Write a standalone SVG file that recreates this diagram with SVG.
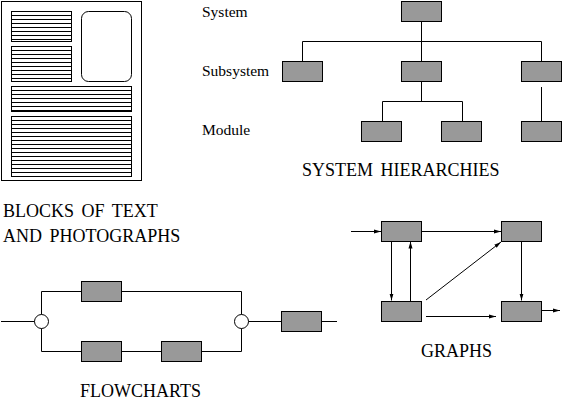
<svg xmlns="http://www.w3.org/2000/svg" width="562" height="401" viewBox="0 0 562 401">
<style>
.b{fill:#999999;stroke:#000;stroke-width:1}
.o{fill:none;stroke:#000;stroke-width:1}
.l{stroke:#000;stroke-width:1;fill:none}
.t{font-family:"Liberation Serif","Times New Roman",serif;fill:#000}
.lab{font-size:15.5px}
.ttl{font-size:18px;word-spacing:3px}
</style>
<defs>
<marker id="ah" markerUnits="userSpaceOnUse" markerWidth="8" markerHeight="6" refX="7" refY="2.5" orient="auto">
<path d="M0,0.5 L7,2.5 L0,4.5 z" fill="#000"/>
</marker>
</defs>
<rect width="562" height="401" fill="#fff"/>

<g id="page">
<rect class="o" x="1.5" y="1.5" width="140" height="179"/>
<rect class="o" x="11.5" y="11.5" width="60" height="30"/>
<path class="l" d="M11.5,15.5H71.5M11.5,19.5H71.5M11.5,23.5H71.5M11.5,27.5H71.5M11.5,31.5H71.5M11.5,35.5H71.5M11.5,39.5H71.5"/>
<rect class="o" x="11.5" y="46.5" width="60" height="35"/>
<path class="l" d="M11.5,50.5H71.5M11.5,54.5H71.5M11.5,58.5H71.5M11.5,62.5H71.5M11.5,66.5H71.5M11.5,70.5H71.5M11.5,74.5H71.5M11.5,78.5H71.5"/>
<rect class="o" x="81.5" y="11.5" width="50" height="70" rx="7" ry="7"/>
<rect class="o" x="11.5" y="86.5" width="120" height="25"/>
<path class="l" d="M11.5,90.5H131.5M11.5,94.5H131.5M11.5,98.5H131.5M11.5,102.5H131.5M11.5,106.5H131.5M11.5,110.5H131.5"/>
<rect class="o" x="11.5" y="116.5" width="120" height="60"/>
<path class="l" d="M11.5,120.5H131.5M11.5,124.5H131.5M11.5,128.5H131.5M11.5,132.5H131.5M11.5,136.5H131.5M11.5,140.5H131.5M11.5,144.5H131.5M11.5,148.5H131.5M11.5,152.5H131.5M11.5,156.5H131.5M11.5,160.5H131.5M11.5,164.5H131.5M11.5,168.5H131.5M11.5,172.5H131.5"/>
</g>
<g id="page-title">
<text class="t ttl" x="3" y="217">BLOCKS OF TEXT</text>
<text class="t ttl" x="3" y="242">AND PHOTOGRAPHS</text>
</g>

<g id="hier-connectors">
<path class="l" d="M421.5,21.5V41.5M302.5,41.5H541.5M302.5,41.5V61.5M421.5,41.5V61.5M541.5,41.5V61.5M421.5,81.5V101.5M382.5,101.5H462.5M382.5,101.5V121.5M462.5,101.5V121.5M541.5,87V121.5"/>
</g>
<g id="h-system"><rect class="b" x="401.5" y="1.5" width="40" height="20"/></g>
<g id="h-sub1"><rect class="b" x="282.5" y="61.5" width="40" height="20"/></g>
<g id="h-sub2"><rect class="b" x="401.5" y="61.5" width="40" height="20"/></g>
<g id="h-sub3"><rect class="b" x="521.5" y="61.5" width="40" height="20"/></g>
<g id="h-mod1"><rect class="b" x="361.5" y="121.5" width="40" height="20"/></g>
<g id="h-mod2"><rect class="b" x="441.5" y="121.5" width="40" height="20"/></g>
<g id="h-mod3"><rect class="b" x="521.5" y="121.5" width="40" height="20"/></g>
<g id="hier-labels">
<text class="t lab" x="202" y="17">System</text>
<text class="t lab" x="202" y="76">Subsystem</text>
<text class="t lab" x="202" y="135">Module</text>
<text class="t ttl" x="302" y="176">SYSTEM HIERARCHIES</text>
</g>

<g id="graph-connectors">
<line class="l" x1="351" y1="231.5" x2="381" y2="231.5" marker-end="url(#ah)"/>
<line class="l" x1="421.5" y1="231.5" x2="501" y2="231.5" marker-end="url(#ah)"/>
<line class="l" x1="391.5" y1="241.5" x2="391.5" y2="300.5" marker-end="url(#ah)"/>
<line class="l" x1="410.5" y1="301" x2="410.5" y2="241.5" marker-end="url(#ah)"/>
<line class="l" x1="426" y1="300" x2="501" y2="242" marker-end="url(#ah)"/>
<line class="l" x1="426" y1="316.5" x2="496" y2="316.5" marker-end="url(#ah)"/>
<line class="l" x1="521.5" y1="241.5" x2="521.5" y2="300.5" marker-end="url(#ah)"/>
<line class="l" x1="541.5" y1="310.5" x2="560" y2="310.5" marker-end="url(#ah)"/>
</g>
<g id="g-a"><rect class="b" x="381.5" y="221.5" width="40" height="20"/></g>
<g id="g-b"><rect class="b" x="501.5" y="221.5" width="40" height="20"/></g>
<g id="g-c"><rect class="b" x="381.5" y="301.5" width="40" height="20"/></g>
<g id="g-d"><rect class="b" x="501.5" y="301.5" width="40" height="20"/></g>
<g id="graph-title"><text class="t ttl" x="421" y="357">GRAPHS</text></g>

<g id="flow-connectors">
<path class="l" d="M1,321.5H34.5M41.5,314.5V291.5H81.5M121.5,291.5H241.5V314.5M41.5,328.5V351.5H81.5M121.5,351.5H161.5M201.5,351.5H241.5V328.5M248.5,321.5H281.5M321.5,321.5H337"/>
</g>
<g id="f-j1"><circle class="o" cx="41.5" cy="321.5" r="7"/></g>
<g id="f-j2"><circle class="o" cx="241.5" cy="321.5" r="7"/></g>
<g id="f-top"><rect class="b" x="81.5" y="281.5" width="40" height="20"/></g>
<g id="f-bot1"><rect class="b" x="81.5" y="341.5" width="40" height="20"/></g>
<g id="f-bot2"><rect class="b" x="161.5" y="341.5" width="40" height="20"/></g>
<g id="f-out"><rect class="b" x="281.5" y="311.5" width="40" height="20"/></g>
<g id="flow-title"><text class="t ttl" x="80" y="397">FLOWCHARTS</text></g>
</svg>
